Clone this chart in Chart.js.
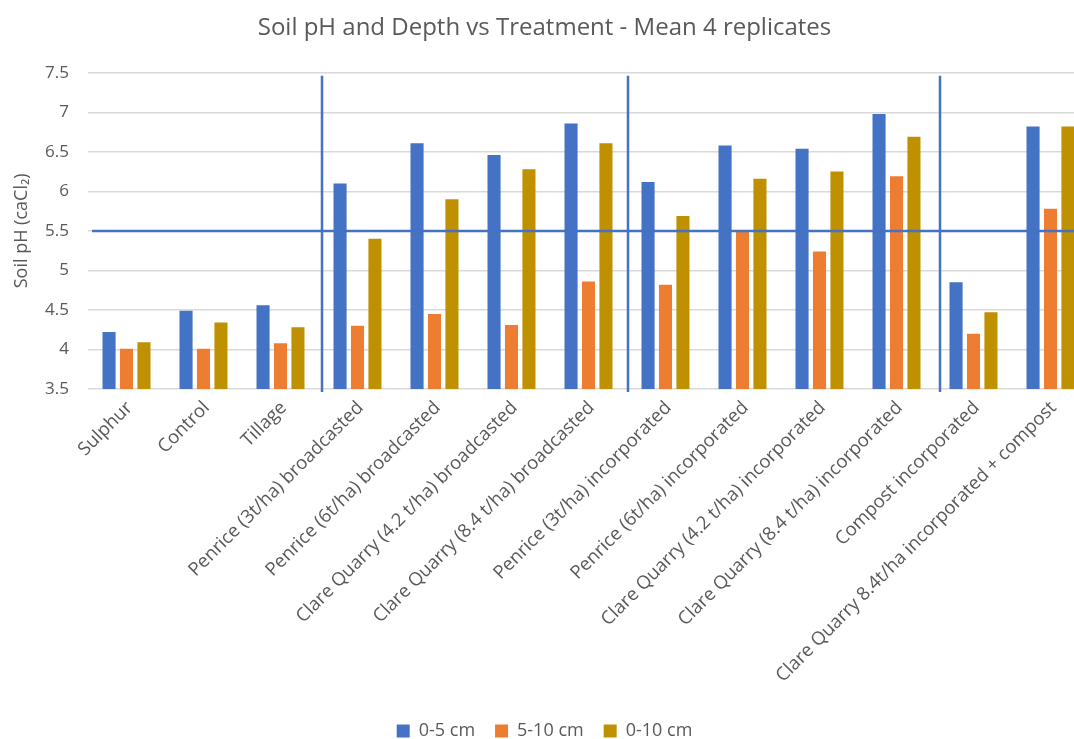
<!DOCTYPE html>
<html>
<head>
<meta charset="utf-8">
<title>Soil pH and Depth vs Treatment</title>
<script src="https://cdn.jsdelivr.net/npm/chart.js@4.4.1/dist/chart.umd.min.js"></script>
<style>
  html, body { margin: 0; padding: 0; background: #ffffff; overflow: hidden; width: 1074px; height: 739px; }
  #wrap { width: 1096px; height: 750px; }
</style>
</head>
<body>
<div id="wrap"><canvas id="chart" width="1096" height="750"></canvas></div>
<script>
// Treatments (x categories)
const treatments = [
  'Sulphur',
  'Control',
  'Tillage',
  'Penrice (3t/ha) broadcasted',
  'Penrice (6t/ha) broadcasted',
  'Clare Quarry (4.2 t/ha) broadcasted',
  'Clare Quarry (8.4 t/ha) broadcasted',
  'Penrice (3t/ha) incorporated',
  'Penrice (6t/ha) incorporated',
  'Clare Quarry (4.2 t/ha) incorporated',
  'Clare Quarry (8.4 t/ha) incorporated',
  'Compost incorporated',
  'Clare Quarry 8.4t/ha incorporated + compost'
];

// Mean soil pH (CaCl2) per sampling depth
const ph0to5cm  = [4.22, 4.49, 4.56, 6.10, 6.61, 6.46, 6.86, 6.12, 6.58, 6.54, 6.98, 4.85, 6.82];
const ph5to10cm = [4.01, 4.01, 4.08, 4.30, 4.45, 4.31, 4.86, 4.82, 5.49, 5.24, 6.19, 4.20, 5.78];
const ph0to10cm = [4.09, 4.34, 4.28, 5.40, 5.90, 6.28, 6.61, 5.69, 6.16, 6.25, 6.69, 4.47, 6.82];

const seriesNames  = ['0-5 cm', '5-10 cm', '0-10 cm'];
const seriesColors = ['#4472C4', '#ED7D31', '#BF9000'];

// Axis range
const yMin = 3.5, yMax = 7.5, yStep = 0.5;

// Reference pH line and the dividers between treatment groups (in category units)
const targetPH = 5.5;
const groupDividers = [2.54, 6.51, 10.56];

const textGrey = '#595959';
Chart.defaults.font.family = "'Open Sans', 'Noto Sans', sans-serif";
Chart.defaults.color = textGrey;

const guideLines = {
  id: 'guideLines',
  afterDatasetsDraw(chart) {
    const { ctx, chartArea, scales: { x, y } } = chart;
    ctx.save();
    ctx.strokeStyle = '#4472C4';
    ctx.lineWidth = 2.5;
    const yT = Math.round(y.getPixelForValue(targetPH));
    ctx.beginPath();
    ctx.moveTo(chartArea.left + 4, yT);
    ctx.lineTo(chartArea.right, yT);
    ctx.stroke();
    const x0 = x.getPixelForValue(0);
    const step = x.getPixelForValue(1) - x0;
    groupDividers.forEach(d => {
      const px = Math.round(x0 + d * step);
      ctx.beginPath();
      ctx.moveTo(px, chartArea.top + 3);
      ctx.lineTo(px, chartArea.bottom + 3);
      ctx.stroke();
    });
    ctx.restore();
  }
};

const seriesValues = [ph0to5cm, ph5to10cm, ph0to10cm];

new Chart(document.getElementById('chart'), {
  type: 'bar',
  data: {
    labels: treatments,
    datasets: seriesNames.map((name, i) => ({
      label: name,
      data: seriesValues[i],
      backgroundColor: seriesColors[i],
      borderWidth: 0,
      categoryPercentage: 0.68,
      barPercentage: 0.75
    }))
  },
  options: {
    responsive: false,
    animation: false,
    devicePixelRatio: 1,
    layout: { padding: { left: 0, right: 7, top: 0, bottom: 0 } },
    plugins: {
      title: {
        display: true,
        text: 'Soil pH and Depth vs Treatment - Mean 4 replicates',
        color: textGrey,
        font: { size: 24, weight: 'normal' },
        padding: { top: 14, bottom: 30 }
      },
      legend: {
        position: 'bottom',
        labels: {
          boxWidth: 13,
          boxHeight: 13,
          color: textGrey,
          font: { size: 18 },
          padding: 20
        }
      },
      tooltip: { enabled: false }
    },
    scales: {
      x: {
        grid: { display: false },
        border: { display: false },
        ticks: {
          color: textGrey,
          font: { size: 18.5 },
          minRotation: 45,
          maxRotation: 45,
          autoSkip: false,
          padding: 0,
          labelOffset: 3
        },
        afterFit(scale) { scale.height = 313; }
      },
      y: {
        min: yMin,
        max: yMax,
        border: { display: false },
        grid: { color: '#d9d9d9', lineWidth: 1.5, drawTicks: false },
        ticks: {
          stepSize: yStep,
          color: textGrey,
          font: { size: 17 },
          padding: 19,
          callback: v => String(v)
        },
        title: {
          display: true,
          text: 'Soil pH (caCl₂)',
          color: textGrey,
          font: { size: 18 },
          padding: { top: 11, bottom: 0 }
        },
        afterFit(scale) { scale.width = 88; }
      }
    }
  },
  plugins: [guideLines]
});
</script>
</body>
</html>
